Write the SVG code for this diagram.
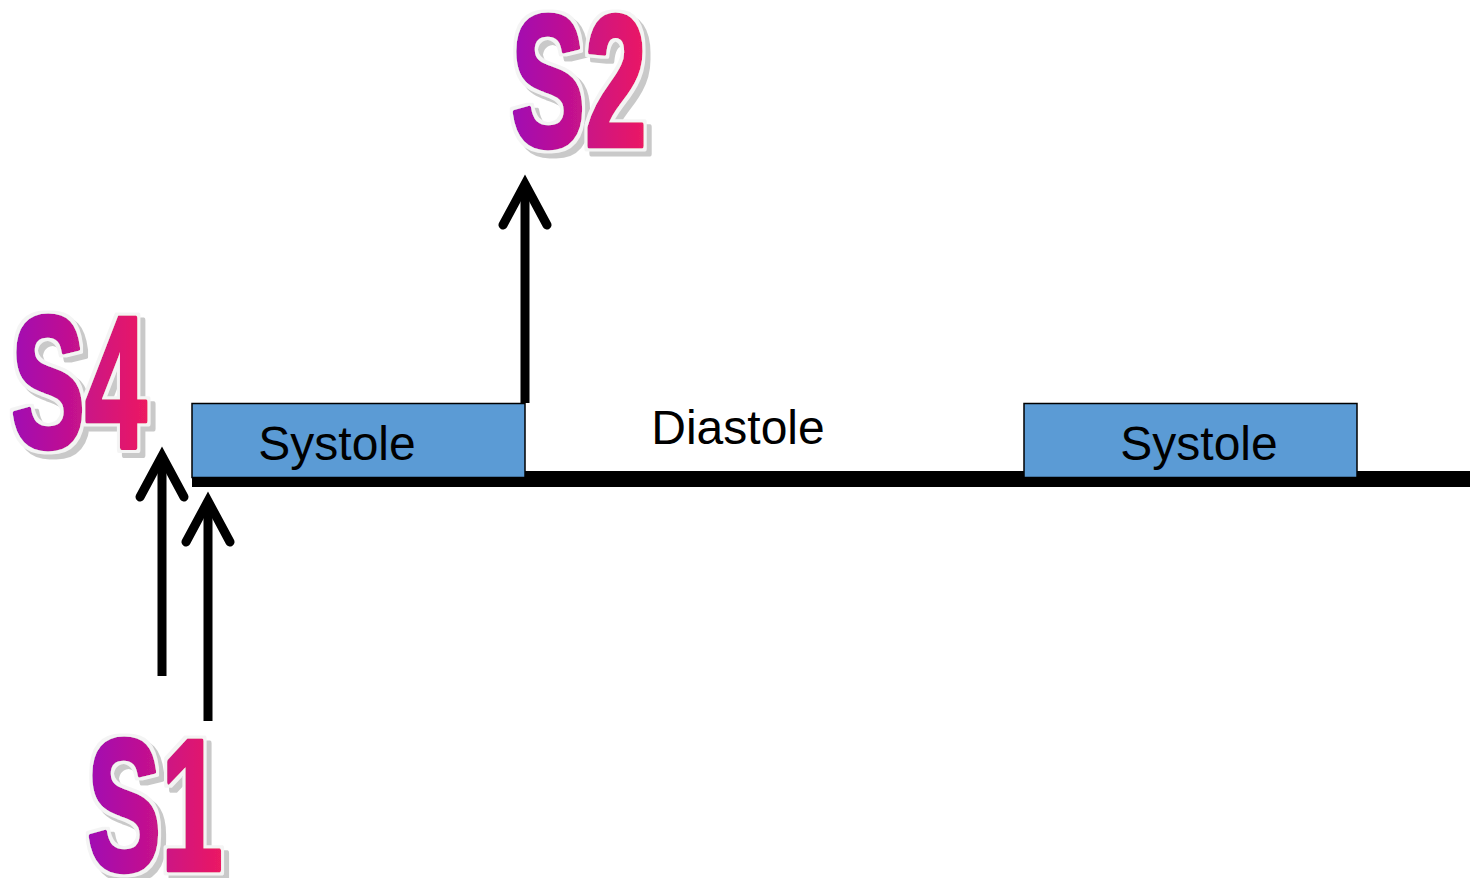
<svg xmlns="http://www.w3.org/2000/svg" width="1470" height="878" viewBox="0 0 1470 878">
<defs>
<linearGradient id="wa" x1="0" y1="0" x2="1" y2="0">
<stop offset="0" stop-color="#a00ab4"/>
<stop offset="1" stop-color="#ec1a62"/>
</linearGradient>
<filter id="wafx" x="-20%" y="-20%" width="140%" height="140%">
<feMorphology in="SourceAlpha" operator="dilate" radius="2.5" result="dil"/>
<feFlood flood-color="#f4f4f4" result="wc"/>
<feComposite in="wc" in2="dil" operator="in" result="outline"/>
<feOffset in="dil" dx="5" dy="5" result="off"/>
<feFlood flood-color="#c9c9c9" result="gc"/>
<feComposite in="gc" in2="off" operator="in" result="shadow"/>
<feMerge>
<feMergeNode in="shadow"/>
<feMergeNode in="outline"/>
<feMergeNode in="SourceGraphic"/>
</feMerge>
</filter>
<style>
.wa{font-family:"Liberation Sans",Arial,sans-serif;font-weight:bold;font-size:188px;fill:url(#wa);stroke:url(#wa);stroke-width:5;stroke-linejoin:round}
.box{fill:#5b9bd5;stroke:#000;stroke-width:1.5}
.lbl{font-family:"Liberation Sans",Arial,sans-serif;font-size:48px;fill:#000;text-anchor:middle}
.arr{fill:none;stroke:#000;stroke-width:9}
.head{fill:none;stroke:#000;stroke-width:9;stroke-linecap:round;stroke-linejoin:miter}
</style>
</defs>
<rect width="1470" height="878" fill="#fff"/>
<g id="timeline">
<rect x="192" y="471" width="1278" height="16" fill="#000"/>
</g>
<g id="systole1">
<rect class="box" x="192" y="403.5" width="333" height="74"/>
<text class="lbl" x="337" y="460">Systole</text>
</g>
<g id="systole2">
<rect class="box" x="1024" y="403.5" width="333" height="74"/>
<text class="lbl" x="1199" y="460">Systole</text>
</g>
<g id="diastole">
<text class="lbl" x="738" y="444">Diastole</text>
</g>
<g id="connectors">
<line class="arr" x1="525" y1="403" x2="525" y2="188"/>
<polyline class="head" points="503,225 525,184 547,225"/>
<line class="arr" x1="162" y1="676" x2="162" y2="460"/>
<polyline class="head" points="140,497 162,456 184,497"/>
<line class="arr" x1="208" y1="721" x2="208" y2="505"/>
<polyline class="head" points="186,542 208,501 230,542"/>
</g>
<g id="s2" filter="url(#wafx)">
<g transform="translate(511,146) scale(0.59,1)"><text class="wa" x="0" y="0">S2</text></g>
</g>
<g id="s4" filter="url(#wafx)">
<g transform="translate(11,447) scale(0.59,1)"><text class="wa" x="0" y="0">S4</text></g>
</g>
<g id="s1" filter="url(#wafx)">
<g transform="translate(87,870) scale(0.59,1)"><text class="wa" x="0" y="0">S1</text></g>
</g>
</svg>
